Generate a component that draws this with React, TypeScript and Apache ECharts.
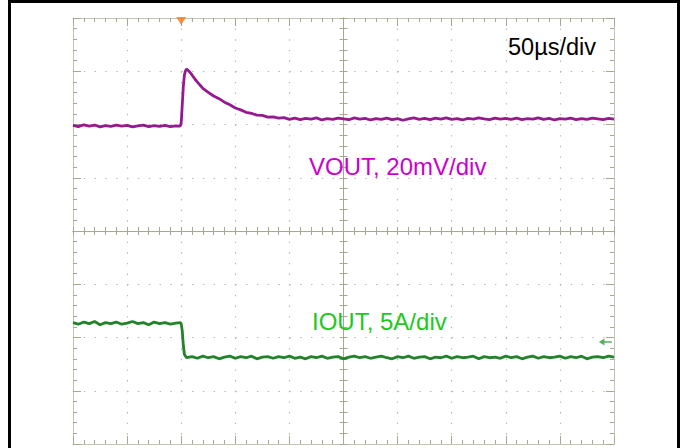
import React, { useEffect, useRef } from 'react';
import * as echarts from 'echarts';

// Time base: 50 µs/div, trigger at t = 0 (2 divisions from the left edge)
const TIME_MIN_US = -100;
const TIME_MAX_US = 400;
const TIME_DIV_US = 50;

// VOUT: 20 mV/div (deviation from nominal, mV)
const VOUT_MIN_MV = -120;
const VOUT_MAX_MV = 40;
const VOUT_DIV_MV = 20;

// IOUT: 5 A/div
const IOUT_MIN_A = 0;
const IOUT_MAX_A = 40;
const IOUT_DIV_A = 5;

const TRIGGER_US = 0;
const IOUT_MARKER: [number, number] = [392, 9.58];

const LABEL_TIME = '50µs/div';
const LABEL_VOUT = 'VOUT, 20mV/div';
const LABEL_IOUT = 'IOUT, 5A/div';

const VOUT: [number, number][] = [
  [-100, -0.3], [-95, -0.8], [-90, -0.1], [-85, -0.6], [-80, -0.2], [-75, -0.9], [-70, -0.4],
  [-65, -0.7], [-60, -0.2], [-55, -0.6], [-50, -0.3], [-45, -0.9], [-40, -0.5], [-35, -0.2],
  [-30, -0.8], [-25, -0.4], [-20, -0.7], [-15, -0.3], [-10, -0.8], [-5, -0.5], [-1, -0.6],
  [0, 0.5], [1, 7.5], [2, 14.5], [3, 18.6], [4, 20.2], [5, 20.8], [7, 20.1], [10, 18.6],
  [13, 16.9], [15, 15.9], [20, 13.6], [25, 12.1], [30, 10.7], [35, 9.7], [40, 8.4], [45, 7.4],
  [50, 6.2], [55, 5.5], [60, 4.6], [65, 4.2], [70, 3.5], [75, 3.4], [80, 2.8], [85, 2.9],
  [90, 2.4], [95, 2.6],
  [100, 1.9], [105, 2.4], [110, 1.8], [115, 2.3], [120, 2.0], [125, 2.5], [130, 1.7], [135, 2.2],
  [140, 1.9], [145, 2.4], [150, 2.1], [155, 1.8], [160, 2.5], [165, 2.0], [170, 2.3], [175, 1.7],
  [180, 2.2], [185, 1.9], [190, 2.4], [195, 1.8], [200, 2.2], [205, 1.6], [210, 2.1], [215, 2.5],
  [220, 1.9], [225, 2.3], [230, 1.8], [235, 2.4], [240, 2.0], [245, 2.5], [250, 1.9], [255, 2.2],
  [260, 1.7], [265, 2.3], [270, 2.0], [275, 2.5], [280, 2.1], [285, 1.8], [290, 2.4], [295, 2.0],
  [300, 2.3], [305, 1.9], [310, 2.4], [315, 1.8], [320, 2.2], [325, 2.0], [330, 2.5], [335, 1.9],
  [340, 2.3], [345, 1.7], [350, 2.2], [355, 2.0], [360, 2.4], [365, 1.8], [370, 2.2], [375, 1.9],
  [380, 2.4], [385, 2.1], [390, 1.8], [395, 2.3], [400, 2.0],
];

const IOUT: [number, number][] = [
  [-100, 11.4], [-95, 11.25], [-90, 11.45], [-85, 11.3], [-80, 11.5], [-75, 11.2], [-70, 11.4],
  [-65, 11.3], [-60, 11.45], [-55, 11.25], [-50, 11.35], [-45, 11.5], [-40, 11.3], [-35, 11.4],
  [-30, 11.2], [-25, 11.45], [-20, 11.3], [-15, 11.4], [-10, 11.25], [-5, 11.35], [-1, 11.4],
  [0, 11.3], [1, 10.6], [2, 9.2], [3, 8.4], [5, 8.1],
  [10, 8.2], [15, 8.05], [20, 8.25], [25, 8.1], [30, 8.2], [35, 8.0], [40, 8.15], [45, 8.25],
  [50, 8.05], [55, 8.2], [60, 8.1], [65, 8.25], [70, 8.0], [75, 8.15], [80, 8.2], [85, 8.05],
  [90, 8.2], [95, 8.1], [100, 8.25], [105, 8.05], [110, 8.15], [115, 8.0], [120, 8.2], [125, 8.1],
  [130, 8.25], [135, 8.05], [140, 8.15], [145, 8.2], [150, 8.0], [155, 8.15], [160, 8.25], [165, 8.1],
  [170, 8.2], [175, 8.05], [180, 8.15], [185, 8.25], [190, 8.1], [195, 8.0], [200, 8.2], [205, 8.1],
  [210, 8.25], [215, 8.05], [220, 8.15], [225, 8.2], [230, 8.0], [235, 8.15], [240, 8.1], [245, 8.25],
  [250, 8.05], [255, 8.2], [260, 8.1], [265, 8.15], [270, 8.25], [275, 8.0], [280, 8.2], [285, 8.1],
  [290, 8.15], [295, 8.05], [300, 8.25], [305, 8.1], [310, 8.2], [315, 8.0], [320, 8.15], [325, 8.25],
  [330, 8.05], [335, 8.2], [340, 8.1], [345, 8.15], [350, 8.25], [355, 8.05], [360, 8.2], [365, 8.1],
  [370, 8.25], [375, 8.0], [380, 8.15], [385, 8.2], [390, 8.1], [395, 8.25], [400, 8.15],
];

const FONT = '"Liberation Sans", Arial, sans-serif';
const BORDER = '#c4c4b6';
const TICK = '#a8a892';
const DOT = '#b8b8a8';

const GRID_LEFT = 73;
const GRID_TOP = 18;
const GRID_W = 541;
const GRID_H = 426;

function xAxisCfg(position: 'top' | 'bottom', inside: boolean, offset: number, split: boolean) {
  return {
    type: 'value',
    min: TIME_MIN_US,
    max: TIME_MAX_US,
    interval: TIME_DIV_US,
    position,
    offset,
    axisLine: { show: true, onZero: false, lineStyle: { color: offset ? TICK : BORDER, width: 1 } },
    axisTick: { show: true, inside, length: offset ? 4 : 8, lineStyle: { color: TICK } },
    minorTick: { show: true, splitNumber: 5, length: 4, lineStyle: { color: TICK } },
    axisLabel: { show: false },
    splitLine: split
      ? { show: true, lineStyle: { color: DOT, width: 1.2, type: [1.4, 9.25] } }
      : { show: false },
    minorSplitLine: { show: false },
  };
}

function yAxisCfg(
  position: 'left' | 'right',
  inside: boolean,
  offset: number,
  split: boolean,
  min: number,
  max: number,
  interval: number,
) {
  return {
    type: 'value',
    min,
    max,
    interval,
    position,
    offset,
    axisLine: { show: true, onZero: false, lineStyle: { color: offset ? TICK : BORDER, width: 1 } },
    axisTick: { show: true, inside, length: offset ? 4 : 8, lineStyle: { color: TICK } },
    minorTick: { show: true, splitNumber: 5, length: 4, lineStyle: { color: TICK } },
    axisLabel: { show: false },
    splitLine: split
      ? { show: true, lineStyle: { color: DOT, width: 1.2, type: [1.4, 9.42] } }
      : { show: false },
    minorSplitLine: { show: false },
  };
}

export default function App() {
  const ref = useRef<HTMLDivElement>(null);

  useEffect(() => {
    document.body.style.margin = '0';
    if (!ref.current) return;
    const chart = echarts.init(ref.current, undefined, { renderer: 'svg' });
    const centerX = -(GRID_W / 2);
    const centerY = -(GRID_H / 2);

    chart.setOption({
      animation: false,
      backgroundColor: '#ffffff',
      grid: { left: GRID_LEFT, top: GRID_TOP, width: GRID_W, height: GRID_H, containLabel: false },
      xAxis: [
        xAxisCfg('bottom', true, 0, true),
        xAxisCfg('top', true, 0, false),
        xAxisCfg('bottom', true, centerY, false),
        xAxisCfg('bottom', false, centerY, false),
      ],
      yAxis: [
        yAxisCfg('left', true, 0, true, VOUT_MIN_MV, VOUT_MAX_MV, VOUT_DIV_MV),
        yAxisCfg('right', true, 0, false, IOUT_MIN_A, IOUT_MAX_A, IOUT_DIV_A),
        yAxisCfg('left', true, centerX, false, VOUT_MIN_MV, VOUT_MAX_MV, VOUT_DIV_MV),
        yAxisCfg('left', false, centerX, false, VOUT_MIN_MV, VOUT_MAX_MV, VOUT_DIV_MV),
      ],
      series: [
        {
          name: 'VOUT',
          type: 'line',
          xAxisIndex: 0,
          yAxisIndex: 0,
          data: VOUT,
          showSymbol: false,
          symbol: 'none',
          lineStyle: { color: '#95198f', width: 2.8 },
          z: 5,
        },
        {
          name: 'IOUT',
          type: 'line',
          xAxisIndex: 0,
          yAxisIndex: 1,
          data: IOUT,
          showSymbol: false,
          symbol: 'none',
          lineStyle: { color: '#22832a', width: 2.8 },
          z: 5,
        },
        {
          name: 'trigger',
          type: 'scatter',
          xAxisIndex: 0,
          yAxisIndex: 0,
          data: [[TRIGGER_US, VOUT_MAX_MV]],
          symbol: 'triangle',
          symbolRotate: 180,
          symbolSize: [10, 8],
          symbolOffset: [0, 3],
          itemStyle: { color: '#f47a22' },
          clip: false,
          z: 6,
        },
        {
          name: 'iout-level',
          type: 'scatter',
          xAxisIndex: 0,
          yAxisIndex: 1,
          data: [IOUT_MARKER],
          symbol: 'path://M0,5 L6,0 L6,4 L14,4 L14,6 L6,6 L6,10 Z',
          symbolSize: [13, 7],
          itemStyle: { color: '#2e9a36' },
          clip: false,
          z: 6,
        },
      ],
      graphic: [
        { type: 'rect', shape: { x: 8, y: 0, width: 3, height: 448 }, style: { fill: '#000' }, z: 100 },
        { type: 'rect', shape: { x: 8, y: 0, width: 672, height: 3 }, style: { fill: '#000' }, z: 100 },
        { type: 'rect', shape: { x: 677, y: 0, width: 3, height: 448 }, style: { fill: '#000' }, z: 100 },
        {
          type: 'text',
          x: 508,
          y: 47,
          z: 100,
          style: { text: LABEL_TIME, fill: '#000000', fontSize: 23.5, fontFamily: FONT, align: 'left', verticalAlign: 'middle' },
        },
        {
          type: 'text',
          x: 309,
          y: 166.5,
          z: 100,
          style: { text: LABEL_VOUT, fill: '#cc00cc', fontSize: 24, fontFamily: FONT, align: 'left', verticalAlign: 'middle' },
        },
        {
          type: 'text',
          x: 312,
          y: 321.5,
          z: 100,
          style: { text: LABEL_IOUT, fill: '#1ec81e', fontSize: 24, fontFamily: FONT, align: 'left', verticalAlign: 'middle' },
        },
      ],
    });

    return () => chart.dispose();
  }, []);

  return <div ref={ref} style={{ width: 684, height: 448 }} />;
}
